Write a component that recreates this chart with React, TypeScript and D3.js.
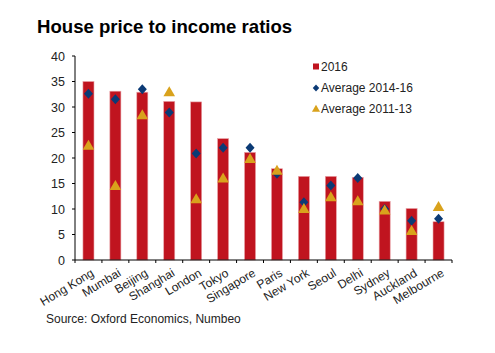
import React from "react";
import * as d3 from "d3";

const cities = ["Hong Kong", "Mumbai", "Beijing", "Shanghai", "London", "Tokyo", "Singapore", "Paris", "New York", "Seoul", "Delhi", "Sydney", "Auckland", "Melbourne"];
const v2016 = [35, 33.1, 32.9, 31.1, 31, 23.8, 21.1, 17.9, 16.4, 16.4, 16.2, 11.5, 10.1, 7.5];
const avg1416 = [32.6, 31.5, 33.5, 28.9, 20.9, 22, 22, 16.9, 11.3, 14.6, 16.1, 10, 7.7, 8.1];
const avg1113 = [22.5, 14.6, 28.5, 33, 12, 16.1, 19.9, 17.6, 10.1, 12.4, 11.6, 9.8, 5.8, 10.5];
const yTicks = [0, 5, 10, 15, 20, 25, 30, 35, 40];
const legendLabels = ["2016", "Average 2014-16", "Average 2011-13"];

const RED = "#c0141f";
const NAVY = "#0b3a75";
const GOLD = "#d9a21c";
const FONT = "'Liberation Sans', Arial, sans-serif";

export default function App() {
  const W = 495, H = 353;
  const x0 = 75, x1 = 452, yBase = 260, yTop = 56;
  const x = d3.scaleBand<string>().domain(cities).range([x0, x1]).paddingInner(0.59).paddingOuter(0.295);
  const xb = d3.scaleBand<string>().domain(cities).range([x0, x1]);
  const y = d3.scaleLinear().domain([0, 40]).range([yBase, yTop]);
  const diamond = (w: number, h: number) => `M0,${-h / 2}L${w / 2},0L0,${h / 2}L${-w / 2},0Z`;
  const tri = (s: number) => `M0,${-s * 0.55}L${s * 0.58},${s * 0.45}L${-s * 0.58},${s * 0.45}Z`;

  return (
    <svg width={W} height={H} style={{ position: "absolute", left: 0, top: 0, background: "#fff" }} fontFamily={FONT}>
      <rect width={W} height={H} fill="#fff" />
      <text x={37} y={33} fontSize={18.6} fontWeight="bold" fill="#000">House price to income ratios</text>
      {/* bars */}
      {cities.map((c, i) => (
        <rect key={c} x={x(c)} y={y(v2016[i])} width={x.bandwidth()} height={yBase - y(v2016[i])} fill={RED} stroke="#e9a3a8" strokeWidth={0.6} />
      ))}
      {/* diamonds */}
      {cities.map((c, i) => (
        <path key={"d" + c} d={diamond(9, 10)} transform={`translate(${(x(c) as number) + x.bandwidth() / 2},${y(avg1416[i])})`} fill={NAVY} />
      ))}
      {/* triangles */}
      {cities.map((c, i) => (
        <path key={"t" + c} d={tri(10)} transform={`translate(${(x(c) as number) + x.bandwidth() / 2},${y(avg1113[i])})`} fill={GOLD} />
      ))}
      {/* y axis */}
      <line x1={x0} x2={x0} y1={yTop} y2={yBase} stroke="#000" strokeWidth={1} />
      {yTicks.map((t) => (
        <g key={t}>
          <line x1={x0 - 3} x2={x0} y1={y(t)} y2={y(t)} stroke="#000" />
          <text x={x0 - 10} y={y(t)} dy="0.36em" textAnchor="end" fontSize={12.5} fill="#222">{t}</text>
        </g>
      ))}
      {/* x axis */}
      <line x1={x0} x2={x1} y1={yBase} y2={yBase} stroke="#000" />
      {cities.map((c) => (
        <line key={"xt" + c} x1={(xb(c) as number) + xb.bandwidth()} x2={(xb(c) as number) + xb.bandwidth()} y1={yBase} y2={yBase + 3} stroke="#000" />
      ))}
      <line x1={x0} x2={x0} y1={yBase} y2={yBase + 3} stroke="#000" />
      {cities.map((c) => {
        const cx = (xb(c) as number) + xb.bandwidth() / 2 + 2;
        return (
          <text key={"xl" + c} transform={`translate(${cx},${yBase + 8}) rotate(-31)`} textAnchor="end" dy="0.7em" fontSize={12} fill="#222">{c}</text>
        );
      })}
      {/* legend */}
      <rect x={313} y={63.5} width={6} height={6} fill={RED} />
      <text x={321} y={66.5} dy="0.36em" fontSize={12} fill="#222">{legendLabels[0]}</text>
      <path d={diamond(6.5, 7)} transform="translate(316,88)" fill={NAVY} />
      <text x={321} y={88} dy="0.36em" fontSize={12} fill="#222">{legendLabels[1]}</text>
      <path d={tri(7)} transform="translate(316,108.5)" fill={GOLD} />
      <text x={321} y={108.5} dy="0.36em" fontSize={12} fill="#222">{legendLabels[2]}</text>
      <text x={46} y={323} fontSize={12} fill="#222">Source: Oxford Economics, Numbeo</text>
    </svg>
  );
}
